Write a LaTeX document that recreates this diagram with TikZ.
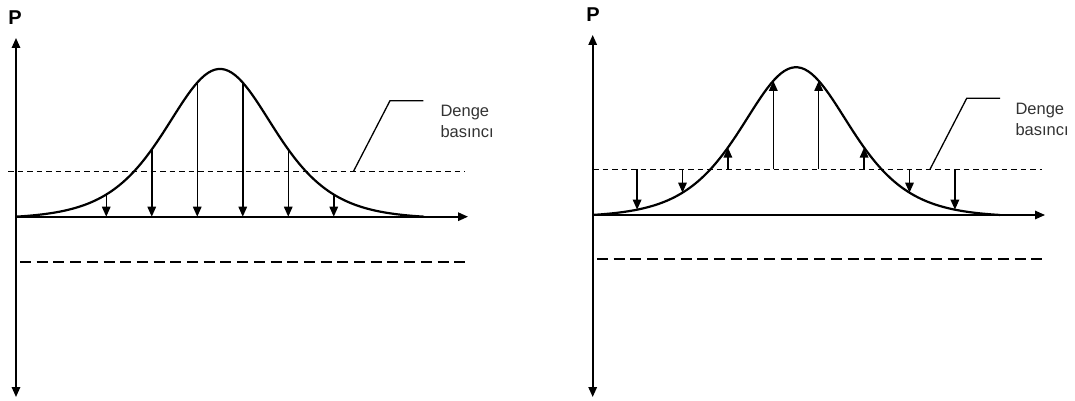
\documentclass[tikz,border=0pt]{standalone}
\usepackage{fontspec}
\setmainfont{Liberation Sans}
\usetikzlibrary{arrows.meta}

\begin{document}
\begin{tikzpicture}[
			x=1pt, y=-1pt,
			axis/.style={line width=1.6pt, -{Triangle[length=10pt,width=8.5pt]}},
			curve/.style={line width=2.2pt},
			force/.style={line width=1.5pt, -{Triangle[length=10pt,width=8.5pt]}},
			eqline/.style={line width=1.2pt, dash pattern=on 5.5pt off 4pt},
			lowline/.style={line width=2.3pt, dash pattern=on 11pt off 5.7pt},
			leader/.style={line width=1.3pt},
			plabel/.style={font=\fontsize{20}{20}\selectfont\bfseries},
			note/.style={font=\fontsize{16.5}{21}\selectfont, align=left, anchor=west, text=black!80}
			]
			\useasboundingbox (0,0) rectangle (1075,401);
			
			% Left diagram
			\coordinate (L0) at (16,216.7);
			\coordinate (Ltop) at (16,38);
			\coordinate (Lbot) at (16,397);
			\coordinate (Lend) at (468,216.7);
			\node[plabel] (LP) at (15,18) {P};
			\draw[axis] (L0) -- (Ltop);
			\draw[axis] (L0) -- (Lbot);
			\draw[axis] (L0) -- (Lend);
			\draw[curve] plot[domain=16:424, samples=120] (\x, {216.7-max(0,150/(cosh((\x-220)/73)*cosh((\x-220)/73))-2.2)});
			\coordinate (Leq1) at (8,171.7);
			\coordinate (Leq2) at (465,171.7);
			\draw[eqline] (Leq1) -- (Leq2);
			\coordinate (Llow1) at (20,261.7);
			\coordinate (Llow2) at (468,261.7);
			\draw[lowline] (Llow1) -- (Llow2);
			\foreach \i in {1,...,6} {
				\pgfmathsetmacro\xx{220+(\i-3.5)*45.5}
				\coordinate (Lf\i) at (\xx, {216.7-150/(cosh((\xx-220)/73)*cosh((\xx-220)/73))+2.2});
				\coordinate (Lb\i) at (\xx,216.7);
				\draw[force] (Lf\i) -- (Lb\i);
			}
			\coordinate (Lk1) at (353.3,171.7);
			\coordinate (Lk2) at (390,100.7);
			\coordinate (Lk3) at (423.3,100.7);
			\draw[leader] (Lk1) -- (Lk2) -- (Lk3);
			\node[note] (Lnote) at (437,121) {Denge\\basıncı};
			
			% Right diagram
			\coordinate (R0) at (592.7,215);
			\coordinate (Rtop) at (592.7,35);
			\coordinate (Rbot) at (592.7,397);
			\coordinate (Rend) at (1045,215);
			\node[plabel] (RP) at (593,15) {P};
			\draw[axis] (R0) -- (Rtop);
			\draw[axis] (R0) -- (Rbot);
			\draw[axis] (R0) -- (Rend);
			\draw[curve] plot[domain=592.7:1000, samples=120] (\x, {215-max(0,150/(cosh((\x-796)/73)*cosh((\x-796)/73))-2.2)});
			\coordinate (Req1) at (593,169.3);
			\coordinate (Req2) at (1042,169.3);
			\draw[eqline] (Req1) -- (Req2);
			\coordinate (Rlow1) at (597,259.3);
			\coordinate (Rlow2) at (1043,259.3);
			\draw[lowline] (Rlow1) -- (Rlow2);
			\foreach \i in {1,...,8} {
				\pgfmathsetmacro\xx{796+(\i-4.5)*45.4}
				\coordinate (Rf\i) at (\xx, {215-150/(cosh((\xx-796)/73)*cosh((\xx-796)/73))+2.2});
				\coordinate (Rb\i) at (\xx,169.3);
				\draw[force] (Rb\i) -- (Rf\i);
			}
			\coordinate (Rk1) at (930,169.3);
			\coordinate (Rk2) at (966.7,98.3);
			\coordinate (Rk3) at (1000,98.3);
			\draw[leader] (Rk1) -- (Rk2) -- (Rk3);
			\node[note] (Rnote) at (1012,119) {Denge\\basıncı};
		\end{tikzpicture}
\end{document}
